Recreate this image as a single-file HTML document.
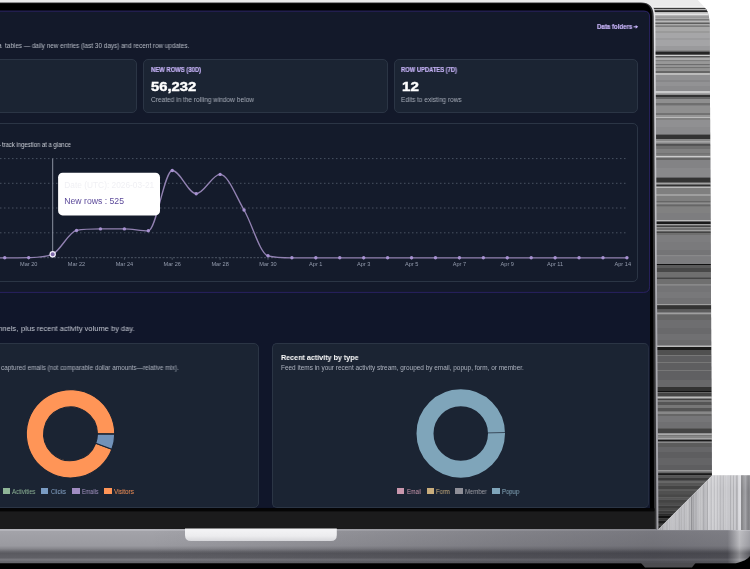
<!DOCTYPE html>
<html><head><meta charset="utf-8"><title>Dashboard</title>
<style>
html,body{margin:0;padding:0;background:#fff;}
body{width:750px;height:569px;position:relative;overflow:hidden;font-family:"Liberation Sans",sans-serif;}
#dev{position:absolute;left:0;top:0;}
.t{position:absolute;white-space:nowrap;line-height:1;transform-origin:0 50%;will-change:transform;}
.card{position:absolute;box-sizing:border-box;border:1px solid #2b3545;background:#1b2433;border-radius:5px;}
.lbl{color:#c3b0f4;font-weight:bold;font-size:6.3px;}
.num{}
.sub{color:#a7adb9;font-size:6.4px;}
.lg{position:absolute;top:488.1px;width:7.4px;height:6.2px;}
.lt{font-size:6.2px;top:488px;}
</style></head><body>
<svg id="dev" width="750" height="569" viewBox="0 0 750 569">
<defs>
<clipPath id="cs"><path d="M650,7.7 H704.5 Q708.6,9.5 709.6,22 L711.9,475.6 L658,529.5 H650 Z"/></clipPath>
<clipPath id="cv"><path d="M712.4,475.3 H750 V531 H656.7 Z"/></clipPath>
<linearGradient id="vg" x1="0" y1="0" x2="0" y2="1"><stop offset="0" stop-color="#fff" stop-opacity="0.12"/><stop offset="0.3" stop-color="#fff" stop-opacity="0"/><stop offset="1" stop-color="#808088" stop-opacity="0.06"/></linearGradient>
<linearGradient id="bg1" gradientUnits="userSpaceOnUse" x1="0" y1="529" x2="0" y2="563.2">
<stop offset="0" stop-color="#b6b6bc"/><stop offset="0.045" stop-color="#b4b4ba"/><stop offset="0.06" stop-color="#a3a3a9"/><stop offset="0.49" stop-color="#9a9aa0"/><stop offset="0.58" stop-color="#85858b"/><stop offset="0.66" stop-color="#66666c"/><stop offset="0.71" stop-color="#5a5a60"/><stop offset="0.85" stop-color="#606066"/><stop offset="0.88" stop-color="#77777d"/><stop offset="0.92" stop-color="#74747a"/><stop offset="0.94" stop-color="#6a6a70"/><stop offset="1" stop-color="#66666c"/></linearGradient>
<linearGradient id="bg2" gradientUnits="userSpaceOnUse" x1="0" y1="0" x2="750" y2="0">
<stop offset="0" stop-color="#1c1c24" stop-opacity="0"/><stop offset="0.2" stop-color="#1c1c24" stop-opacity="0"/><stop offset="0.45" stop-color="#1c1c24" stop-opacity="0.13"/><stop offset="0.67" stop-color="#1c1c24" stop-opacity="0.24"/><stop offset="0.87" stop-color="#1c1c24" stop-opacity="0.32"/><stop offset="0.97" stop-color="#1c1c24" stop-opacity="0.28"/><stop offset="0.986" stop-color="#ffffff" stop-opacity="0.3"/><stop offset="1" stop-color="#ffffff" stop-opacity="0"/></linearGradient>
<linearGradient id="sg" x1="0" y1="0" x2="0" y2="1"><stop offset="0" stop-color="#ececee"/><stop offset="0.12" stop-color="#d8d8dc"/><stop offset="0.55" stop-color="#adadb3"/><stop offset="1" stop-color="#a0a0a6"/></linearGradient>
<linearGradient id="ng" x1="0" y1="0" x2="0" y2="1"><stop offset="0" stop-color="#f4f4f6"/><stop offset="0.6" stop-color="#ececee"/><stop offset="1" stop-color="#d6d6da"/></linearGradient>
</defs>
<!-- top light grey -->
<path d="M0,0 H697.7 L704.2,6.8 H0 Z" fill="#ebebeb"/>
<!-- horizontal streaks -->
<g clip-path="url(#cs)"><rect x="650" y="7" width="63" height="525" fill="#8a8a8c"/><rect x="650" y="7.7" width="63" height="1.3" fill="#3a3a3a"/><rect x="650" y="9" width="63" height="1.3" fill="#b0b0b0"/><rect x="650" y="10.3" width="63" height="1.7" fill="#262626"/><rect x="650" y="12" width="63" height="1.3" fill="#bdbdbd"/><rect x="650" y="13.3" width="63" height="2.0" fill="#e4e4e4"/><rect x="650" y="15.3" width="63" height="1.2" fill="#bbbbbb"/><rect x="650" y="16.5" width="63" height="1.5" fill="#999999"/><rect x="650" y="18" width="63" height="1.3" fill="#aaaaaa"/><rect x="650" y="19.3" width="63" height="1.3" fill="#707070"/><rect x="650" y="20.6" width="63" height="2.0" fill="#b8b8b8"/><rect x="650" y="22.6" width="63" height="1.4" fill="#5e5e5e"/><rect x="650" y="24" width="63" height="1.5" fill="#aaaaaa"/><rect x="650" y="25.5" width="63" height="1.5" fill="#7c7c7c"/><rect x="650" y="27" width="63" height="4" fill="#a8a8a8"/><rect x="650" y="31" width="63" height="2" fill="#9a9a9a"/><rect x="650" y="33" width="63" height="5" fill="#a6a6a8"/><rect x="650" y="38" width="63" height="2" fill="#9c9c9e"/><rect x="650" y="40" width="63" height="6" fill="#a4a4a6"/><rect x="650" y="46" width="63" height="4" fill="#9a9a9c"/><rect x="650" y="50" width="63" height="1.6" fill="#888888"/><rect x="650" y="51.6" width="63" height="3.2" fill="#242424"/><rect x="650" y="54.8" width="63" height="1.2" fill="#cccccc"/><rect x="650" y="56" width="63" height="1.6" fill="#555555"/><rect x="650" y="57.6" width="63" height="2.4" fill="#aaaaaa"/><rect x="650" y="60" width="63" height="1.2" fill="#7f7f7f"/><rect x="650" y="61.2" width="63" height="3.0" fill="#989898"/><rect x="650" y="64.2" width="63" height="1.0" fill="#666666"/><rect x="650" y="65.2" width="63" height="1.8" fill="#969696"/><rect x="650" y="67" width="63" height="1.2" fill="#727272"/><rect x="650" y="68.2" width="63" height="2.8" fill="#929292"/><rect x="650" y="71" width="63" height="2" fill="#666666"/><rect x="650" y="73" width="63" height="2" fill="#bbbbbb"/><rect x="650" y="75" width="63" height="5" fill="#909092"/><rect x="650" y="80" width="63" height="2" fill="#878789"/><rect x="650" y="82" width="63" height="4" fill="#929294"/><rect x="650" y="86" width="63" height="5" fill="#8b8b8d"/><rect x="650" y="91" width="63" height="2.6" fill="#cacaca"/><rect x="650" y="93.6" width="63" height="1.4" fill="#8f8f8f"/><rect x="650" y="95" width="63" height="2" fill="#333333"/><rect x="650" y="97" width="63" height="2" fill="#666666"/><rect x="650" y="99" width="63" height="4" fill="#8f8f8f"/><rect x="650" y="103" width="63" height="2.6" fill="#6f6f6f"/><rect x="650" y="105.6" width="63" height="7.4" fill="#8f8f8f"/><rect x="650" y="113" width="63" height="2" fill="#727272"/><rect x="650" y="115" width="63" height="2" fill="#969696"/><rect x="650" y="117" width="63" height="1" fill="#bbbbbb"/><rect x="650" y="118" width="63" height="2" fill="#818181"/><rect x="650" y="120" width="63" height="7" fill="#909092"/><rect x="650" y="127" width="63" height="7.6" fill="#8b8b8d"/><rect x="650" y="134.6" width="63" height="4.4" fill="#333333"/><rect x="650" y="139" width="63" height="2.4" fill="#878787"/><rect x="650" y="141.4" width="63" height="1.2" fill="#bbbbbb"/><rect x="650" y="142.6" width="63" height="1.6" fill="#7f7f7f"/><rect x="650" y="144.2" width="63" height="1.6" fill="#444444"/><rect x="650" y="145.8" width="63" height="3.2" fill="#6f6f6f"/><rect x="650" y="149" width="63" height="4.4" fill="#818181"/><rect x="650" y="153.4" width="63" height="1.2" fill="#666666"/><rect x="650" y="154.6" width="63" height="1.4" fill="#838383"/><rect x="650" y="156" width="63" height="1.6" fill="#cccccc"/><rect x="650" y="157.6" width="63" height="2.4" fill="#666666"/><rect x="650" y="160" width="63" height="8" fill="#838385"/><rect x="650" y="168" width="63" height="9.6" fill="#89898b"/><rect x="650" y="177.6" width="63" height="4.4" fill="#333333"/><rect x="650" y="182" width="63" height="1.4" fill="#666666"/><rect x="650" y="183.4" width="63" height="1.1" fill="#bbbbbb"/><rect x="650" y="184.5" width="63" height="2.1" fill="#333333"/><rect x="650" y="186.6" width="63" height="1.4" fill="#bbbbbb"/><rect x="650" y="188" width="63" height="6" fill="#7f7f7f"/><rect x="650" y="194" width="63" height="2" fill="#9f9f9f"/><rect x="650" y="196" width="63" height="5" fill="#7f7f7f"/><rect x="650" y="201" width="63" height="1.6" fill="#666666"/><rect x="650" y="202.6" width="63" height="1.8" fill="#8f8f8f"/><rect x="650" y="204.4" width="63" height="2.2" fill="#666666"/><rect x="650" y="206.6" width="63" height="6.4" fill="#818181"/><rect x="650" y="213" width="63" height="7" fill="#7d7d7f"/><rect x="650" y="220" width="63" height="1.5" fill="#bbbbbb"/><rect x="650" y="221.5" width="63" height="2.5" fill="#1a1a1a"/><rect x="650" y="224" width="63" height="1.4" fill="#9f9f9f"/><rect x="650" y="225.4" width="63" height="1.6" fill="#444444"/><rect x="650" y="227" width="63" height="1" fill="#8f8f8f"/><rect x="650" y="228" width="63" height="2" fill="#6f6f6f"/><rect x="650" y="230" width="63" height="1.4" fill="#9f9f9f"/><rect x="650" y="231.4" width="63" height="1.6" fill="#444444"/><rect x="650" y="233" width="63" height="2" fill="#6f6f6f"/><rect x="650" y="235" width="63" height="7" fill="#7d7d7f"/><rect x="650" y="242" width="63" height="8" fill="#7a7a7c"/><rect x="650" y="250" width="63" height="5.4" fill="#747476"/><rect x="650" y="255.4" width="63" height="0.8" fill="#8f8f8f"/><rect x="650" y="256.2" width="63" height="7.8" fill="#7d7d7f"/><rect x="650" y="264" width="63" height="1" fill="#111111"/><rect x="650" y="265" width="63" height="3" fill="#5a5a5a"/><rect x="650" y="268" width="63" height="4" fill="#484848"/><rect x="650" y="272" width="63" height="5.4" fill="#6f6f6f"/><rect x="650" y="277.4" width="63" height="2.0" fill="#444444"/><rect x="650" y="279.4" width="63" height="5.0" fill="#6f6f6f"/><rect x="650" y="284.4" width="63" height="1.2" fill="#8f8f8f"/><rect x="650" y="285.6" width="63" height="6.4" fill="#747476"/><rect x="650" y="292" width="63" height="6" fill="#78787a"/><rect x="650" y="298" width="63" height="6" fill="#727274"/><rect x="650" y="304" width="63" height="1.2" fill="#9f9f9f"/><rect x="650" y="305.2" width="63" height="4.4" fill="#333333"/><rect x="650" y="309.6" width="63" height="3.0" fill="#5c5c5c"/><rect x="650" y="312.6" width="63" height="1.8" fill="#9f9f9f"/><rect x="650" y="314.4" width="63" height="5.6" fill="#666666"/><rect x="650" y="320" width="63" height="8" fill="#6e6e70"/><rect x="650" y="328" width="63" height="6" fill="#69696b"/><rect x="650" y="334" width="63" height="6" fill="#707072"/><rect x="650" y="340" width="63" height="5.6" fill="#6b6b6d"/><rect x="650" y="345.6" width="63" height="1.4" fill="#bbbbbb"/><rect x="650" y="347" width="63" height="3" fill="#1a1a1a"/><rect x="650" y="350" width="63" height="5" fill="#505050"/><rect x="650" y="355" width="63" height="1" fill="#777777"/><rect x="650" y="356" width="63" height="6" fill="#5e5e60"/><rect x="650" y="362" width="63" height="1" fill="#777777"/><rect x="650" y="363" width="63" height="7" fill="#5e5e60"/><rect x="650" y="370" width="63" height="1" fill="#777777"/><rect x="650" y="371" width="63" height="9" fill="#606062"/><rect x="650" y="380" width="63" height="7" fill="#68686a"/><rect x="650" y="387" width="63" height="3.4" fill="#333333"/><rect x="650" y="390.4" width="63" height="1.6" fill="#111111"/><rect x="650" y="392" width="63" height="1" fill="#666666"/><rect x="650" y="393" width="63" height="3.6" fill="#444444"/><rect x="650" y="396.6" width="63" height="2.0" fill="#bbbbbb"/><rect x="650" y="398.6" width="63" height="1.4" fill="#444444"/><rect x="650" y="400" width="63" height="2" fill="#777777"/><rect x="650" y="402" width="63" height="3" fill="#555555"/><rect x="650" y="405" width="63" height="3" fill="#777777"/><rect x="650" y="408" width="63" height="3.6" fill="#555555"/><rect x="650" y="411.6" width="63" height="2.4" fill="#888888"/><rect x="650" y="414" width="63" height="2" fill="#666666"/><rect x="650" y="416" width="63" height="6" fill="#767678"/><rect x="650" y="422" width="63" height="6.4" fill="#707072"/><rect x="650" y="428.4" width="63" height="5.0" fill="#444444"/><rect x="650" y="433.4" width="63" height="1.6" fill="#aaaaaa"/><rect x="650" y="435" width="63" height="1" fill="#777777"/><rect x="650" y="436" width="63" height="2.4" fill="#888888"/><rect x="650" y="438.4" width="63" height="1.2" fill="#bbbbbb"/><rect x="650" y="439.6" width="63" height="2.0" fill="#1a1a1a"/><rect x="650" y="441.6" width="63" height="1.4" fill="#888888"/><rect x="650" y="443" width="63" height="4" fill="#5c5c5c"/><rect x="650" y="447" width="63" height="5" fill="#666668"/><rect x="650" y="452" width="63" height="6" fill="#5e5e60"/><rect x="650" y="458" width="63" height="7" fill="#646466"/><rect x="650" y="465" width="63" height="5" fill="#5e5e60"/><rect x="650" y="470.0" width="63" height="1.52" fill="#999999"/><rect x="650" y="471.52" width="63" height="1.65" fill="#666666"/><rect x="650" y="473.17" width="63" height="2.15" fill="#1a1a1a"/><rect x="650" y="475.32" width="63" height="2.28" fill="#555555"/><rect x="650" y="477.6" width="63" height="3.17" fill="#3a3a3a"/><rect x="650" y="480.77" width="63" height="1.9" fill="#666666"/><rect x="650" y="482.67" width="63" height="3.16" fill="#555555"/><rect x="650" y="485.83" width="63" height="3.17" fill="#444444"/><rect x="650" y="489.0" width="63" height="1.9" fill="#5a5a5a"/><rect x="650" y="490.9" width="63" height="3.17" fill="#505050"/><rect x="650" y="494.07" width="63" height="3.16" fill="#484848"/><rect x="650" y="497.23" width="63" height="2.54" fill="#555555"/><rect x="650" y="499.77" width="63" height="3.16" fill="#444444"/><rect x="650" y="502.93" width="63" height="2.54" fill="#4c4c4c"/><rect x="650" y="505.47" width="63" height="2.53" fill="#3c3c3c"/><rect x="650" y="508.0" width="63" height="2.53" fill="#484848"/><rect x="650" y="510.53" width="63" height="3.17" fill="#3a3a3a"/><rect x="650" y="513.7" width="63" height="2.15" fill="#2a2a2a"/><rect x="650" y="515.85" width="63" height="2.28" fill="#111111"/><rect x="650" y="518.13" width="63" height="2.53" fill="#333333"/><rect x="650" y="520.66" width="63" height="3.17" fill="#1a1a1a"/><rect x="650" y="523.83" width="63" height="1.9" fill="#3a3a3a"/><rect x="650" y="525.73" width="63" height="5.07" fill="#222222"/></g>
<!-- vertical streaks -->
<g clip-path="url(#cv)"><rect x="655" y="474" width="1.75" height="58" fill="rgb(184,184,188)"/><rect x="656.6" y="474" width="1.45" height="58" fill="rgb(168,168,172)"/><rect x="657.9" y="474" width="2.15" height="58" fill="rgb(184,184,188)"/><rect x="659.9" y="474" width="1.15" height="58" fill="rgb(168,168,172)"/><rect x="660.9" y="474" width="1.15" height="58" fill="rgb(184,184,188)"/><rect x="661.9" y="474" width="1.15" height="58" fill="rgb(168,168,172)"/><rect x="662.9" y="474" width="1.75" height="58" fill="rgb(184,184,188)"/><rect x="664.5" y="474" width="1.15" height="58" fill="rgb(168,168,172)"/><rect x="665.5" y="474" width="1.45" height="58" fill="rgb(184,184,188)"/><rect x="666.8" y="474" width="1.05" height="58" fill="rgb(168,168,172)"/><rect x="667.7" y="474" width="1.15" height="58" fill="rgb(195,195,199)"/><rect x="668.7" y="474" width="2.15" height="58" fill="rgb(186,186,190)"/><rect x="670.7" y="474" width="2.15" height="58" fill="rgb(195,195,199)"/><rect x="672.7" y="474" width="1.15" height="58" fill="rgb(186,186,190)"/><rect x="673.7" y="474" width="1.45" height="58" fill="rgb(195,195,199)"/><rect x="675.0" y="474" width="1.15" height="58" fill="rgb(186,186,190)"/><rect x="676.0" y="474" width="1.95" height="58" fill="rgb(195,195,199)"/><rect x="677.8" y="474" width="1.15" height="58" fill="rgb(190,190,194)"/><rect x="678.8" y="474" width="1.15" height="58" fill="rgb(174,174,178)"/><rect x="679.8" y="474" width="1.45" height="58" fill="rgb(190,190,194)"/><rect x="681.1" y="474" width="1.15" height="58" fill="rgb(174,174,178)"/><rect x="682.1" y="474" width="2.15" height="58" fill="rgb(190,190,194)"/><rect x="684.1" y="474" width="1.15" height="58" fill="rgb(174,174,178)"/><rect x="685.1" y="474" width="1.45" height="58" fill="rgb(190,190,194)"/><rect x="686.4" y="474" width="1.15" height="58" fill="rgb(174,174,178)"/><rect x="687.4" y="474" width="1.45" height="58" fill="rgb(190,190,194)"/><rect x="688.7" y="474" width="1.75" height="58" fill="rgb(174,174,178)"/><rect x="690.3" y="474" width="0.65" height="58" fill="rgb(190,190,194)"/><rect x="690.8" y="474" width="1.15" height="58" fill="rgb(134,134,138)"/><rect x="691.8" y="474" width="1.15" height="58" fill="rgb(170,170,174)"/><rect x="692.8" y="474" width="1.75" height="58" fill="rgb(165,165,169)"/><rect x="694.4" y="474" width="1.45" height="58" fill="rgb(170,170,174)"/><rect x="695.7" y="474" width="1.15" height="58" fill="rgb(165,165,169)"/><rect x="696.7" y="474" width="0.25" height="58" fill="rgb(170,170,174)"/><rect x="696.8" y="474" width="1.75" height="58" fill="rgb(190,190,194)"/><rect x="698.4" y="474" width="1.15" height="58" fill="rgb(172,172,176)"/><rect x="699.4" y="474" width="1.15" height="58" fill="rgb(190,190,194)"/><rect x="700.4" y="474" width="1.15" height="58" fill="rgb(172,172,176)"/><rect x="701.4" y="474" width="1.45" height="58" fill="rgb(190,190,194)"/><rect x="702.7" y="474" width="2.15" height="58" fill="rgb(172,172,176)"/><rect x="704.7" y="474" width="2.15" height="58" fill="rgb(190,190,194)"/><rect x="706.7" y="474" width="1.65" height="58" fill="rgb(172,172,176)"/><rect x="708.2" y="474" width="2.15" height="58" fill="rgb(207,207,211)"/><rect x="710.2" y="474" width="2.15" height="58" fill="rgb(192,192,196)"/><rect x="712.2" y="474" width="1.75" height="58" fill="rgb(207,207,211)"/><rect x="713.8" y="474" width="1.75" height="58" fill="rgb(192,192,196)"/><rect x="715.4" y="474" width="1.45" height="58" fill="rgb(207,207,211)"/><rect x="716.7" y="474" width="1.45" height="58" fill="rgb(192,192,196)"/><rect x="718.0" y="474" width="0.45" height="58" fill="rgb(207,207,211)"/><rect x="718.3" y="474" width="1.15" height="58" fill="rgb(199,199,203)"/><rect x="719.3" y="474" width="1.75" height="58" fill="rgb(184,184,188)"/><rect x="720.9" y="474" width="2.15" height="58" fill="rgb(199,199,203)"/><rect x="722.9" y="474" width="1.75" height="58" fill="rgb(184,184,188)"/><rect x="724.5" y="474" width="1.65" height="58" fill="rgb(199,199,203)"/><rect x="726" y="474" width="1.75" height="58" fill="rgb(205,205,209)"/><rect x="727.6" y="474" width="1.15" height="58" fill="rgb(176,176,180)"/><rect x="728.6" y="474" width="1.15" height="58" fill="rgb(205,205,209)"/><rect x="729.6" y="474" width="2.15" height="58" fill="rgb(176,176,180)"/><rect x="731.6" y="474" width="1.45" height="58" fill="rgb(205,205,209)"/><rect x="732.9" y="474" width="1.75" height="58" fill="rgb(176,176,180)"/><rect x="734.5" y="474" width="1.45" height="58" fill="rgb(205,205,209)"/><rect x="735.8" y="474" width="2.15" height="58" fill="rgb(176,176,180)"/><rect x="737.8" y="474" width="0.95" height="58" fill="rgb(205,205,209)"/><rect x="738.6" y="474" width="1.15" height="58" fill="rgb(215,215,219)"/><rect x="739.6" y="474" width="1.15" height="58" fill="rgb(215,215,219)"/><rect x="740.6" y="474" width="0.65" height="58" fill="rgb(215,215,219)"/><rect x="741.1" y="474" width="1.75" height="58" fill="rgb(122,122,126)"/><rect x="742.7" y="474" width="1.15" height="58" fill="rgb(128,128,132)"/><rect x="743.7" y="474" width="2.15" height="58" fill="rgb(155,155,159)"/><rect x="745.7" y="474" width="1.45" height="58" fill="rgb(147,147,151)"/><rect x="747" y="474" width="1.15" height="58" fill="rgb(134,134,138)"/><rect x="748.0" y="474" width="1.15" height="58" fill="rgb(128,128,132)"/><rect x="749.0" y="474" width="1.65" height="58" fill="rgb(134,134,138)"/><rect x="650" y="474" width="100" height="58" fill="url(#vg)"/></g>
<!-- bezel -->
<path d="M-5,1.7 H641 Q655.3,1.7 655.3,16.5 L658.5,530 H-5 Z" fill="url(#sg)"/>
<path d="M-5,2.6 H641 Q653.7,2.6 653.7,16.5 L656.5,530 H-5 Z" fill="#343436"/>
<path d="M-5,3.3 H640.6 Q652,3.3 652,16.5 L654.2,530 H-5 Z" fill="#000"/>
<!-- screen -->
<path d="M-5,10.6 H644 Q650,10.6 650,17 V508.3 H-5 Z" fill="#10162a"/>
<path d="M-5,11.2 H644 Q649.6,11.2 649.6,17 V286.4 Q649.6,292.4 643.6,292.4 H-5 Z" fill="#13192a" stroke="#30256e" stroke-width="0.8"/>
<rect x="-5" y="508.3" width="659.6" height="3" fill="#050505"/>
<rect x="-5" y="511.3" width="659.6" height="18" fill="#1b1b1c"/>
<!-- base -->
<rect x="0" y="550" width="750" height="19" fill="#000"/>
<path d="M0,529 H656 L657,529.9 H751 V554 Q749,560.5 736,563.3 H0 Z" fill="url(#bg1)"/>
<path d="M0,529 H656 L657,529.9 H751 V554 Q749,560.5 736,563.3 H0 Z" fill="url(#bg2)"/>
<path d="M641,563 H695.5 L692,567.4 H645 Z" fill="#4c4c50"/>
<path d="M185,528.6 H336.8 V535 Q336.8,541 330.8,541 H191 Q185,541 185,535 Z" fill="url(#ng)"/>
</svg>
<div class="card" style="left:-10px;top:59px;width:147.4px;height:53.6px;"></div>
<div class="card" style="left:143.3px;top:59px;width:244.4px;height:53.6px;"></div>
<div class="card" style="left:394px;top:59px;width:244px;height:53.6px;"></div>
<!-- chart card -->
<div class="card" style="left:-10px;top:123.2px;width:648px;height:158.4px;background:#141b2b;"></div>
<svg style="position:absolute;left:0;top:0;will-change:transform" width="750" height="569" viewBox="0 0 750 569">
<g stroke="#4e5868" stroke-width="0.9" stroke-dasharray="1.5 2.5"><line x1="0" x2="626" y1="158.6" y2="158.6"/><line x1="0" x2="626" y1="183.3" y2="183.3"/><line x1="0" x2="626" y1="208" y2="208"/><line x1="0" x2="626" y1="232.8" y2="232.8"/></g>
<line x1="40" x2="282" y1="257.7" y2="257.7" stroke="#5a6474" stroke-width="0.8" stroke-dasharray="2 1.5"/><line x1="28.7" x2="28.7" y1="257.7" y2="259.8" stroke="#5a6474" stroke-width="0.8"/><line x1="76.5" x2="76.5" y1="257.7" y2="259.8" stroke="#5a6474" stroke-width="0.8"/><line x1="124.4" x2="124.4" y1="257.7" y2="259.8" stroke="#5a6474" stroke-width="0.8"/><line x1="172.2" x2="172.2" y1="257.7" y2="259.8" stroke="#5a6474" stroke-width="0.8"/><line x1="220.1" x2="220.1" y1="257.7" y2="259.8" stroke="#5a6474" stroke-width="0.8"/><line x1="268.0" x2="268.0" y1="257.7" y2="259.8" stroke="#5a6474" stroke-width="0.8"/><line x1="315.8" x2="315.8" y1="257.7" y2="259.8" stroke="#5a6474" stroke-width="0.8"/><line x1="363.7" x2="363.7" y1="257.7" y2="259.8" stroke="#5a6474" stroke-width="0.8"/><line x1="411.6" x2="411.6" y1="257.7" y2="259.8" stroke="#5a6474" stroke-width="0.8"/><line x1="459.4" x2="459.4" y1="257.7" y2="259.8" stroke="#5a6474" stroke-width="0.8"/><line x1="507.3" x2="507.3" y1="257.7" y2="259.8" stroke="#5a6474" stroke-width="0.8"/><line x1="555.1" x2="555.1" y1="257.7" y2="259.8" stroke="#5a6474" stroke-width="0.8"/>
<line x1="52.7" x2="52.7" y1="158.6" y2="257.8" stroke="#8c92a0" stroke-width="1"/>
<path d="M-19.19,257.8 C-11.21,257.8 -3.24,257.8 4.74,257.8 C12.72,257.8 20.69,257.75 28.67,257.6 C36.65,257.45 44.62,257.6 52.6,254.2 C60.58,250.8 68.55,231.9 76.53,230.4 C84.51,228.9 92.48,228.9 100.46,228.9 C108.44,228.9 116.41,228.9 124.39,228.9 C132.37,228.9 140.34,230.8 148.32,230.8 C156.3,230.8 164.27,170.5 172.25,170.5 C180.23,170.5 188.2,193.7 196.18,193.7 C204.16,193.7 212.13,174.4 220.11,174.4 C228.09,174.4 236.06,196.43 244.04,210 C252.02,223.57 259.99,253.8 267.97,255.8 C275.95,257.8 283.92,257.8 291.9,257.8 C299.88,257.8 307.85,257.8 315.83,257.8 C323.81,257.8 331.78,257.8 339.76,257.8 C347.74,257.8 355.71,257.8 363.69,257.8 C371.67,257.8 379.64,257.8 387.62,257.8 C395.6,257.8 403.57,257.8 411.55,257.8 C419.53,257.8 427.5,257.8 435.48,257.8 C443.46,257.8 451.43,257.8 459.41,257.8 C467.39,257.8 475.36,257.8 483.34,257.8 C491.32,257.8 499.29,257.8 507.27,257.8 C515.25,257.8 523.22,257.8 531.2,257.8 C539.18,257.8 547.15,257.8 555.13,257.8 C563.11,257.8 571.08,257.8 579.06,257.8 C587.04,257.8 595.01,257.8 602.99,257.8 C610.97,257.8 618.94,257.8 626.92,257.8" fill="none" stroke="#9282b2" stroke-width="1.35" stroke-linejoin="round"/>
<circle cx="4.74" cy="257.8" r="1.7" fill="#a892d2"/><circle cx="28.67" cy="257.6" r="1.7" fill="#a892d2"/><circle cx="76.53" cy="230.4" r="1.7" fill="#a892d2"/><circle cx="100.46" cy="228.9" r="1.7" fill="#a892d2"/><circle cx="124.39" cy="228.9" r="1.7" fill="#a892d2"/><circle cx="148.32" cy="230.8" r="1.7" fill="#a892d2"/><circle cx="172.25" cy="170.5" r="1.7" fill="#a892d2"/><circle cx="196.18" cy="193.7" r="1.7" fill="#a892d2"/><circle cx="220.11" cy="174.4" r="1.7" fill="#a892d2"/><circle cx="244.04" cy="210" r="1.7" fill="#a892d2"/><circle cx="267.97" cy="255.8" r="1.7" fill="#a892d2"/><circle cx="291.9" cy="257.8" r="1.7" fill="#a892d2"/><circle cx="315.83" cy="257.8" r="1.7" fill="#a892d2"/><circle cx="339.76" cy="257.8" r="1.7" fill="#a892d2"/><circle cx="363.69" cy="257.8" r="1.7" fill="#a892d2"/><circle cx="387.62" cy="257.8" r="1.7" fill="#a892d2"/><circle cx="411.55" cy="257.8" r="1.7" fill="#a892d2"/><circle cx="435.48" cy="257.8" r="1.7" fill="#a892d2"/><circle cx="459.41" cy="257.8" r="1.7" fill="#a892d2"/><circle cx="483.34" cy="257.8" r="1.7" fill="#a892d2"/><circle cx="507.27" cy="257.8" r="1.7" fill="#a892d2"/><circle cx="531.2" cy="257.8" r="1.7" fill="#a892d2"/><circle cx="555.13" cy="257.8" r="1.7" fill="#a892d2"/><circle cx="579.06" cy="257.8" r="1.7" fill="#a892d2"/><circle cx="602.99" cy="257.8" r="1.7" fill="#a892d2"/><circle cx="626.92" cy="257.8" r="1.7" fill="#a892d2"/>
<path d="M633.5,26.8 H636.6" stroke="#c3b0f4" stroke-width="1.1" fill="none"/><path d="M635.7,24.9 L638.2,26.8 L635.7,28.7 Z" fill="#c3b0f4"/>
<circle cx="52.7" cy="254.3" r="2.6" fill="#7e6aa8" stroke="#f4f0fb" stroke-width="1.2"/>
<g font-family="Liberation Sans, sans-serif" font-size="5.6" fill="#949cae"><text x="28.7" y="266.2" text-anchor="middle">Mar 20</text><text x="76.5" y="266.2" text-anchor="middle">Mar 22</text><text x="124.4" y="266.2" text-anchor="middle">Mar 24</text><text x="172.2" y="266.2" text-anchor="middle">Mar 26</text><text x="220.1" y="266.2" text-anchor="middle">Mar 28</text><text x="268.0" y="266.2" text-anchor="middle">Mar 30</text><text x="315.8" y="266.2" text-anchor="middle">Apr 1</text><text x="363.7" y="266.2" text-anchor="middle">Apr 3</text><text x="411.6" y="266.2" text-anchor="middle">Apr 5</text><text x="459.4" y="266.2" text-anchor="middle">Apr 7</text><text x="507.3" y="266.2" text-anchor="middle">Apr 9</text><text x="555.1" y="266.2" text-anchor="middle">Apr 11</text><text x="631" y="266.2" text-anchor="end">Apr 14</text></g>
<rect x="58.1" y="172.7" width="101.9" height="42.7" rx="4.5" fill="#ffffff"/>
<text x="64.3" y="188.4" font-family="Liberation Sans, sans-serif" font-size="8.8" fill="#f0f0f4" id="tt1" textLength="89.9" lengthAdjust="spacingAndGlyphs">Date (UTC): 2026-03-21</text>
<text x="64.3" y="203.9" font-family="Liberation Sans, sans-serif" font-size="8.9" fill="#5c4a9a" id="tt2" textLength="59.7" lengthAdjust="spacingAndGlyphs">New rows : 525</text>
</svg>
<div class="card" style="left:-10px;top:343px;width:269.2px;height:165px;"></div>
<div class="card" style="left:272px;top:343px;width:377.4px;height:165px;border-right-color:#252d40"></div>
<svg style="position:absolute;left:0;top:0" width="750" height="569" viewBox="0 0 750 569"><path d="M111.9,449.28 A44.2,44.2 0 1 1 114.7,433.8 L97.4,433.8 A26.9,26.9 0 1 0 95.7,443.22 Z" fill="#ff9557" stroke="#1b2433" stroke-width="1.1"/><path d="M114.7,434.19 A44.2,44.2 0 0 1 111.9,449.28 L95.7,443.22 A26.9,26.9 0 0 0 97.4,434.03 Z" fill="#7192b9" stroke="#1b2433" stroke-width="1.1"/><circle cx="460.75" cy="433.5" r="35.75" fill="none" stroke="#7fa5ba" stroke-width="17"/><path d="M487.5,432.9 L505.5,432.5" stroke="#1b2433" stroke-width="0.7"/></svg>
<div class="lg" style="left:2.5px;background:#8fb597"></div>
<div class="lg" style="left:41.1px;background:#7a9cc4"></div>
<div class="lg" style="left:72.4px;background:#a08cc2"></div>
<div class="lg" style="left:104.4px;background:#ff9557"></div>
<div class="lg" style="left:397.1px;background:#c997ad"></div>
<div class="lg" style="left:426.5px;background:#c9ad7d"></div>
<div class="lg" style="left:455.3px;background:#8f8f98"></div>
<div class="lg" style="left:492.4px;background:#7fa5ba"></div>
<div class="t" id="df" style="left:597px;top:24.18px;font-size:6.4px;color:#c3b0f4;font-weight:bold;-webkit-text-stroke:0.2px #c3b0f4;transform:scaleX(0.953);">Data folders</div>
<div class="t" id="s1" style="left:4.7px;top:42.9px;font-size:6.5px;color:#b9bec8;font-weight:normal;transform:scaleX(0.979);">tables &#8212; daily new entries (last 30 days) and recent row updates.</div>
<div class="t" id="s1a" style="right:747.9px;top:42.9px;font-size:6.5px;color:#b9bec8;font-weight:normal;transform-origin:100% 50%;transform:scaleX(0.979);">a</div>
<div class="t" id="l2" style="left:150.9px;top:67.3px;font-size:6.5px;color:#c3b0f4;font-weight:bold;-webkit-text-stroke:0.2px #c3b0f4;transform:scaleX(0.9068);">NEW ROWS (30D)</div>
<div class="t" id="n2" style="left:151.1px;top:79.53px;font-size:13.2px;color:#fff;font-weight:bold;-webkit-text-stroke:0.45px #fff;transform:scaleX(1.1179);">56,232</div>
<div class="t" id="u2" style="left:150.9px;top:97.23px;font-size:6.7px;color:#a7adb9;font-weight:normal;transform:scaleX(0.9781);">Created in the rolling window below</div>
<div class="t" id="l3" style="left:401.1px;top:67.3px;font-size:6.5px;color:#c3b0f4;font-weight:bold;-webkit-text-stroke:0.2px #c3b0f4;transform:scaleX(0.8929);">ROW UPDATES (7D)</div>
<div class="t" id="n3" style="left:401.5px;top:79.53px;font-size:13.2px;color:#fff;font-weight:bold;-webkit-text-stroke:0.45px #fff;transform:scaleX(1.145);">12</div>
<div class="t" id="u3" style="left:401.1px;top:97.23px;font-size:6.7px;color:#a7adb9;font-weight:normal;transform:scaleX(0.9629);">Edits to existing rows</div>
<div class="t" id="s2" style="left:2.0px;top:142.2px;font-size:6.5px;color:#ccd0d8;font-weight:normal;transform:scaleX(0.9122);">track ingestion at a glance</div>
<div class="t" id="s2a" style="right:749.0px;top:142.2px;font-size:6.5px;color:#ccd0d8;font-weight:normal;transform-origin:100% 50%;transform:scaleX(0.9122);">-</div>
<div class="t" id="s3" style="left:20.8px;top:325.07px;font-size:7.6px;color:#c6cad4;font-weight:normal;transform:scaleX(0.9862);">plus recent activity volume by day.</div>
<div class="t" id="s3a" style="right:731.6px;top:325.07px;font-size:7.6px;color:#c6cad4;font-weight:normal;transform-origin:100% 50%;transform:scaleX(0.9862);">nnels,</div>
<div class="t" id="s4" style="left:0.8px;top:364.68px;font-size:6.4px;color:#adb3bf;font-weight:normal;transform:scaleX(0.9912);">captured emails (not comparable dollar amounts&#8212;relative mix).</div>
<div class="t" id="h5" style="left:281.2px;top:354.08px;font-size:7.7px;color:#fff;font-weight:bold;transform:scaleX(0.9313);">Recent activity by type</div>
<div class="t" id="s5" style="left:281.2px;top:364.68px;font-size:6.4px;color:#adb3bf;font-weight:normal;transform:scaleX(1.0082);">Feed items in your recent activity stream, grouped by email, popup, form, or member.</div>
<div class="t" id="g1" style="left:12px;top:488.98px;font-size:6.4px;color:#8fb597;font-weight:normal;transform:scaleX(0.9279);">Activities</div>
<div class="t" id="g2" style="left:51px;top:488.98px;font-size:6.4px;color:#86a4c8;font-weight:normal;transform:scaleX(0.8799);">Clicks</div>
<div class="t" id="g3" style="left:81.9px;top:488.98px;font-size:6.4px;color:#a896c6;font-weight:normal;transform:scaleX(0.8547);">Emails</div>
<div class="t" id="g4" style="left:113.9px;top:488.98px;font-size:6.4px;color:#ff9557;font-weight:normal;transform:scaleX(0.9307);">Visitors</div>
<div class="t" id="g5" style="left:406.7px;top:488.98px;font-size:6.4px;color:#c997ad;font-weight:normal;transform:scaleX(0.8946);">Email</div>
<div class="t" id="g6" style="left:436.1px;top:488.98px;font-size:6.4px;color:#c9ad7d;font-weight:normal;transform:scaleX(0.9181);">Form</div>
<div class="t" id="g7" style="left:464.9px;top:488.98px;font-size:6.4px;color:#a0a0a8;font-weight:normal;transform:scaleX(0.9295);">Member</div>
<div class="t" id="g8" style="left:502px;top:488.98px;font-size:6.4px;color:#8cb0c4;font-weight:normal;transform:scaleX(0.9251);">Popup</div>
</body></html>
